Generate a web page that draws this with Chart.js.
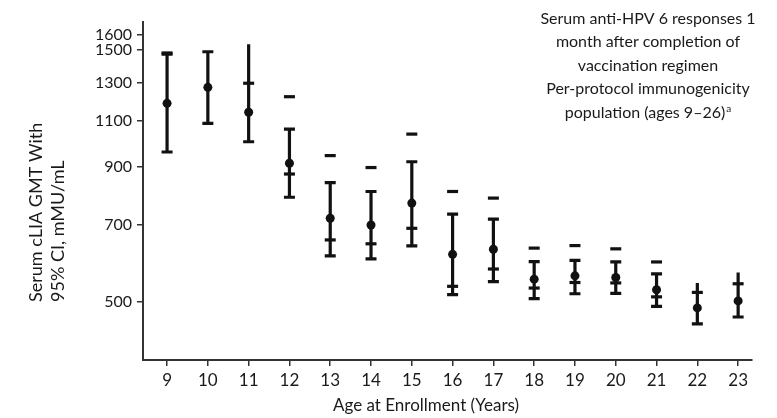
<!DOCTYPE html>
<html>
<head>
<meta charset="utf-8">
<script src="https://cdn.jsdelivr.net/npm/chart.js@4.4.0/dist/chart.umd.min.js"></script>
<style>
html, body { margin: 0; padding: 0; background: #fff; }
#wrap { width: 777px; height: 418px; }
</style>
</head>
<body>
<div id="wrap"><canvas id="gmtChart"></canvas></div>
<script>
// values (mMU/mL)
var ages   = [9, 10, 11, 12, 13, 14, 15, 16, 17, 18, 19, 20, 21, 22, 23];
var gmt    = [1188, 1274, 1143, 915, 720, 699, 769, 615, 629, 552, 560, 556, 527, 487, 502];
var ciLow  = [961, 1089, 1005, 789, 611, 603, 638, 516, 546, 507, 518, 519, 490, 454, 468];
var ciHigh = [1473, 1488, 1538, 1062, 841, 809, 921, 733, 717, 596, 599, 595, 565, 543, 568];
var refHigh = [1480, null, 1297, 1223, 946, 898, 1039, 809, 786, 632, 639, 630, 595, 521, 541];
var refLow  = [null, null, null, 873, 655, 644, 689, 535, 577, 531, 544, 543, 511, null, null];
var yTicks = [500, 700, 900, 1100, 1300, 1500, 1600];

var titleLines = ['Serum anti-HPV 6 responses 1', 'month after completion of',
	'vaccination regimen', 'Per-protocol immunogenicity', 'population (ages 9\u201326)'];
var yTitle = ['Serum cLIA GMT With', '95% CI, mMU/mL'];
var xTitle = 'Age at Enrollment (Years)';

var FONT = 'Lato, "Open Sans", sans-serif';
var INK = '#111';

function toPoints(arr){
	var pts = [];
	for(var i = 0; i < ages.length; i++){
		if(arr[i] !== null) pts.push({x: ages[i], y: arr[i]});
	}
	return pts;
}

// error bars drawn under the markers
var errorBars = {
	id: 'errorBars',
	beforeDatasetsDraw: function(chart){
		var ctx = chart.ctx, xs = chart.scales.x, ys = chart.scales.y;
		ctx.save();
		ctx.strokeStyle = INK;
		ctx.lineWidth = 3.2;
		for(var i = 0; i < ages.length; i++){
			var px = xs.getPixelForValue(ages[i]);
			var pLo = ys.getPixelForValue(ciLow[i]);
			var pHi = ys.getPixelForValue(ciHigh[i]);
			ctx.beginPath();
			ctx.moveTo(px, pLo);
			ctx.lineTo(px, pHi);
			ctx.moveTo(px - 5.5, pLo);
			ctx.lineTo(px + 5.5, pLo);
			// the top cap is not shown where the bar runs past the upper dash
			if(refHigh[i] === null || ciHigh[i] <= refHigh[i] * 1.01){
				ctx.moveTo(px - 5.5, pHi);
				ctx.lineTo(px + 5.5, pHi);
			}
			ctx.stroke();
		}
		ctx.restore();
	}
};

var textBits = {
	id: 'textBits',
	afterDraw: function(chart){
		var ctx = chart.ctx;
		ctx.save();
		ctx.fillStyle = '#1a1a1a';
		ctx.textBaseline = 'middle';

		// y axis title, two rotated lines starting at the bottom
		ctx.font = '18px ' + FONT;
		ctx.textAlign = 'left';
		var yx = [36, 58];
		for(var i = 0; i < yTitle.length; i++){
			ctx.save();
			ctx.translate(yx[i], 302);
			ctx.rotate(-Math.PI / 2);
			ctx.fillText(yTitle[i], 0, 0);
			ctx.restore();
		}

		// x axis title
		ctx.font = '17px ' + FONT;
		ctx.textAlign = 'center';
		ctx.fillText(xTitle, 426, 406);

		// panel caption in the top right corner
		ctx.font = '16px ' + FONT;
		for(var j = 0; j < titleLines.length; j++){
			var y = 18.5 + j * 23.5;
			if(j === titleLines.length - 1){
				var w = ctx.measureText(titleLines[j]).width;
				ctx.font = '10px ' + FONT;
				var ws = ctx.measureText('a').width;
				ctx.font = '16px ' + FONT;
				var left = 648 - (w + ws + 1) / 2;
				ctx.textAlign = 'left';
				ctx.fillText(titleLines[j], left, y);
				ctx.font = '10px ' + FONT;
				ctx.fillText('a', left + w + 1, y - 4);
			}else{
				ctx.textAlign = 'center';
				ctx.fillText(titleLines[j], 648, y);
			}
		}
		ctx.restore();
	}
};

var ctx = document.getElementById('gmtChart').getContext('2d');
var myChart = new Chart(ctx, {
	type: 'scatter',
	data: {
		datasets: [
			{
				label: 'GMT',
				data: toPoints(gmt),
				pointRadius: 4.5,
				pointBackgroundColor: INK,
				pointBorderColor: INK,
				pointBorderWidth: 0
			},
			{
				label: 'upper dash',
				data: toPoints(refHigh),
				pointStyle: 'line',
				pointRadius: 5.5,
				pointBorderColor: INK,
				pointBorderWidth: 3.2
			},
			{
				label: 'lower dash',
				data: toPoints(refLow),
				pointStyle: 'line',
				pointRadius: 5.5,
				pointBorderColor: INK,
				pointBorderWidth: 3.2
			}
		]
	},
	options: {
		responsive: true,
		maintainAspectRatio: false,
		animation: false,
		layout: { padding: { left: 0, top: 22, right: 25, bottom: 0 } },
		plugins: {
			legend: { display: false },
			tooltip: { enabled: false },
			title: { display: false }
		},
		scales: {
			x: {
				type: 'linear',
				min: 8.41,
				max: 23.34,
				afterBuildTicks: function(scale){
					scale.ticks = ages.map(function(v){ return {value: v}; });
				},
				afterFit: function(scale){ scale.height = 58; },
				ticks: {
					callback: function(v){ return String(v); },
					font: { family: FONT, size: 17 },
					color: '#1a1a1a',
					padding: 4,
					maxRotation: 0
				},
				grid: { drawOnChartArea: false, drawTicks: true, tickLength: 6, color: '#333', lineWidth: 1.5 },
				border: { display: true, color: '#333', width: 2 }
			},
			y: {
				type: 'logarithmic',
				min: 388,
				max: 1694,
				afterBuildTicks: function(scale){
					scale.ticks = yTicks.map(function(v){ return {value: v}; });
				},
				afterFit: function(scale){ scale.width = 143; },
				ticks: {
					callback: function(v){ return String(v); },
					font: { family: FONT, size: 16 },
					color: '#1a1a1a',
					padding: 5
				},
				grid: { drawOnChartArea: false, drawTicks: true, tickLength: 6, color: '#333', lineWidth: 1.5 },
				border: { display: true, color: '#333', width: 2 }
			}
		}
	},
	plugins: [errorBars, textBits]
});
</script>
</body>
</html>
